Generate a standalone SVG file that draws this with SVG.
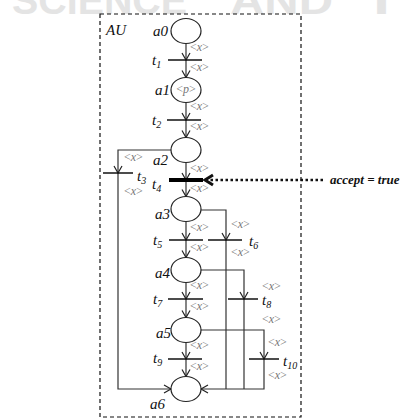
<svg xmlns="http://www.w3.org/2000/svg" width="409" height="419" viewBox="0 0 409 419">
<style>
.wm{font-family:"Liberation Sans",Arial,sans-serif;font-weight:bold;font-size:38px;fill:#e4e4e4}
.pl{fill:#fff;stroke:#222;stroke-width:1.2}
.lbl{font-family:"Liberation Serif","Times New Roman",serif;font-style:italic;font-size:15px;fill:#111}
.sub{font-size:10px}
.tok{font-family:"Liberation Serif","Times New Roman",serif;font-size:12px;fill:#777}
.bar{stroke:#111;stroke-width:1.5}
.arc{fill:none;stroke:#333;stroke-width:1.2}
</style>
<defs>
<marker id="arr" markerUnits="userSpaceOnUse" markerWidth="12" markerHeight="12" viewBox="-9 -6 12 12" refX="0" refY="0" orient="auto">
<path d="M-7,-4 L0,0 L-7,4" fill="none" stroke="#222" stroke-width="1.2"/>
</marker>
</defs>
<g id="watermark">
<text class="wm" x="12" y="14" textLength="175" lengthAdjust="spacingAndGlyphs">SCIENCE</text>
<text class="wm" x="230" y="14" textLength="103" lengthAdjust="spacingAndGlyphs">AND</text>
<text class="wm" x="363" y="14" textLength="37" lengthAdjust="spacingAndGlyphs">T</text>
</g>
<g id="AU">
<rect x="100" y="14" width="201" height="403" fill="none" stroke="#111" stroke-width="1.2" stroke-dasharray="4,3"/>
<text class="lbl" x="106" y="35">AU</text>
</g>
<g id="connectors">
<line class="arc" x1="186" y1="43.5" x2="186" y2="60" marker-end="url(#arr)"/>
<line class="arc" x1="186" y1="60" x2="186" y2="77.5" marker-end="url(#arr)"/>
<line class="arc" x1="186" y1="102.5" x2="186" y2="120" marker-end="url(#arr)"/>
<line class="arc" x1="186" y1="120" x2="186" y2="137.5" marker-end="url(#arr)"/>
<line class="arc" x1="186" y1="162.5" x2="186" y2="180" marker-end="url(#arr)"/>
<line class="arc" x1="186" y1="180" x2="186" y2="196.5" marker-end="url(#arr)"/>
<line class="arc" x1="186" y1="221.5" x2="186" y2="240" marker-end="url(#arr)"/>
<line class="arc" x1="186" y1="240" x2="186" y2="257.5" marker-end="url(#arr)"/>
<line class="arc" x1="186" y1="282.5" x2="186" y2="299" marker-end="url(#arr)"/>
<line class="arc" x1="186" y1="299" x2="186" y2="317.5" marker-end="url(#arr)"/>
<line class="arc" x1="186" y1="342.5" x2="186" y2="359" marker-end="url(#arr)"/>
<line class="arc" x1="186" y1="359" x2="186" y2="376.5" marker-end="url(#arr)"/>
<path class="arc" d="M171,150 H118 V173" marker-end="url(#arr)"/>
<path class="arc" d="M118,173 V389 H171" marker-end="url(#arr)"/>
<path class="arc" d="M201,210 H226 V240" marker-end="url(#arr)"/>
<path class="arc" d="M226,240 V389"/>
<path class="arc" d="M201,270 H244 V299" marker-end="url(#arr)"/>
<path class="arc" d="M244,299 V389"/>
<path class="arc" d="M201,330 H264 V359" marker-end="url(#arr)"/>
<path class="arc" d="M264,359 V389 H201" marker-end="url(#arr)"/>
<line x1="323" y1="180" x2="207" y2="180" stroke="#111" stroke-width="2.5" stroke-dasharray="2.5,2.5"/>
<path d="M213,175 L205,180 L213,185" fill="none" stroke="#111" stroke-width="3"/>
<text x="330" y="184" font-family="Liberation Serif,'Times New Roman',serif" font-style="italic" font-weight="bold" font-size="13" fill="#111">accept = true</text>
</g>
<g id="a0"><ellipse class="pl" cx="186" cy="31" rx="15" ry="12.5"/><text class="lbl" x="153" y="36">a0</text></g>
<g id="a1"><ellipse class="pl" cx="186" cy="90" rx="15" ry="12.5"/><text class="lbl" x="155" y="95">a1</text><text class="tok" x="186" y="93" text-anchor="middle">&lt;<tspan font-style="italic">p</tspan>&gt;</text></g>
<g id="a2"><ellipse class="pl" cx="186" cy="150" rx="15" ry="12.5"/><text class="lbl" x="153" y="165">a2</text></g>
<g id="a3"><ellipse class="pl" cx="186" cy="209" rx="15" ry="12.5"/><text class="lbl" x="155" y="219">a3</text></g>
<g id="a4"><ellipse class="pl" cx="186" cy="270" rx="15" ry="12.5"/><text class="lbl" x="155" y="278">a4</text></g>
<g id="a5"><ellipse class="pl" cx="186" cy="330" rx="15" ry="12.5"/><text class="lbl" x="156" y="338">a5</text></g>
<g id="a6"><ellipse class="pl" cx="186" cy="389" rx="15" ry="12.5"/><text class="lbl" x="150" y="409">a6</text></g>
<g id="t1"><line class="bar" x1="168" y1="60" x2="202" y2="60"/><text class="lbl" x="152" y="65">t<tspan class="sub" dy="3">1</tspan></text>
<text class="tok" x="190" y="51">&lt;<tspan font-style="italic">x</tspan>&gt;</text><text class="tok" x="190" y="71">&lt;<tspan font-style="italic">x</tspan>&gt;</text></g>
<g id="t2"><line class="bar" x1="167" y1="120" x2="201" y2="120"/><text class="lbl" x="152" y="125">t<tspan class="sub" dy="3">2</tspan></text>
<text class="tok" x="190" y="110">&lt;<tspan font-style="italic">x</tspan>&gt;</text><text class="tok" x="190" y="130">&lt;<tspan font-style="italic">x</tspan>&gt;</text></g>
<g id="t3"><line class="bar" x1="103" y1="173" x2="133" y2="173"/><text class="lbl" x="137" y="181">t<tspan class="sub" dy="3">3</tspan></text>
<text class="tok" x="124" y="161">&lt;<tspan font-style="italic">x</tspan>&gt;</text><text class="tok" x="124" y="195">&lt;<tspan font-style="italic">x</tspan>&gt;</text></g>
<g id="t4"><line x1="169" y1="180" x2="203" y2="180" stroke="#000" stroke-width="4"/><text class="lbl" x="152" y="189">t<tspan class="sub" dy="3">4</tspan></text>
<text class="tok" x="190" y="172">&lt;<tspan font-style="italic">x</tspan>&gt;</text><text class="tok" x="190" y="192">&lt;<tspan font-style="italic">x</tspan>&gt;</text></g>
<g id="t5"><line class="bar" x1="169" y1="240" x2="203" y2="240"/><text class="lbl" x="153" y="245">t<tspan class="sub" dy="3">5</tspan></text>
<text class="tok" x="190" y="231">&lt;<tspan font-style="italic">x</tspan>&gt;</text><text class="tok" x="190" y="251">&lt;<tspan font-style="italic">x</tspan>&gt;</text></g>
<g id="t6"><line class="bar" x1="208" y1="240" x2="242" y2="240"/><text class="lbl" x="249" y="246">t<tspan class="sub" dy="3">6</tspan></text>
<text class="tok" x="231" y="228">&lt;<tspan font-style="italic">x</tspan>&gt;</text><text class="tok" x="231" y="256">&lt;<tspan font-style="italic">x</tspan>&gt;</text></g>
<g id="t7"><line class="bar" x1="168" y1="299" x2="203" y2="299"/><text class="lbl" x="153" y="304">t<tspan class="sub" dy="3">7</tspan></text>
<text class="tok" x="190" y="289">&lt;<tspan font-style="italic">x</tspan>&gt;</text><text class="tok" x="190" y="310">&lt;<tspan font-style="italic">x</tspan>&gt;</text></g>
<g id="t8"><line class="bar" x1="228" y1="299" x2="258" y2="299"/><text class="lbl" x="262" y="305">t<tspan class="sub" dy="3">8</tspan></text>
<text class="tok" x="262" y="290">&lt;<tspan font-style="italic">x</tspan>&gt;</text><text class="tok" x="262" y="323">&lt;<tspan font-style="italic">x</tspan>&gt;</text></g>
<g id="t9"><line class="bar" x1="168" y1="359" x2="202" y2="359"/><text class="lbl" x="153" y="363">t<tspan class="sub" dy="3">9</tspan></text>
<text class="tok" x="190" y="349">&lt;<tspan font-style="italic">x</tspan>&gt;</text><text class="tok" x="190" y="370">&lt;<tspan font-style="italic">x</tspan>&gt;</text></g>
<g id="t10"><line class="bar" x1="249" y1="359" x2="279" y2="359"/><text class="lbl" x="283" y="366">t<tspan class="sub" dy="3">10</tspan></text>
<text class="tok" x="268" y="346">&lt;<tspan font-style="italic">x</tspan>&gt;</text><text class="tok" x="268" y="379">&lt;<tspan font-style="italic">x</tspan>&gt;</text></g>
</svg>
